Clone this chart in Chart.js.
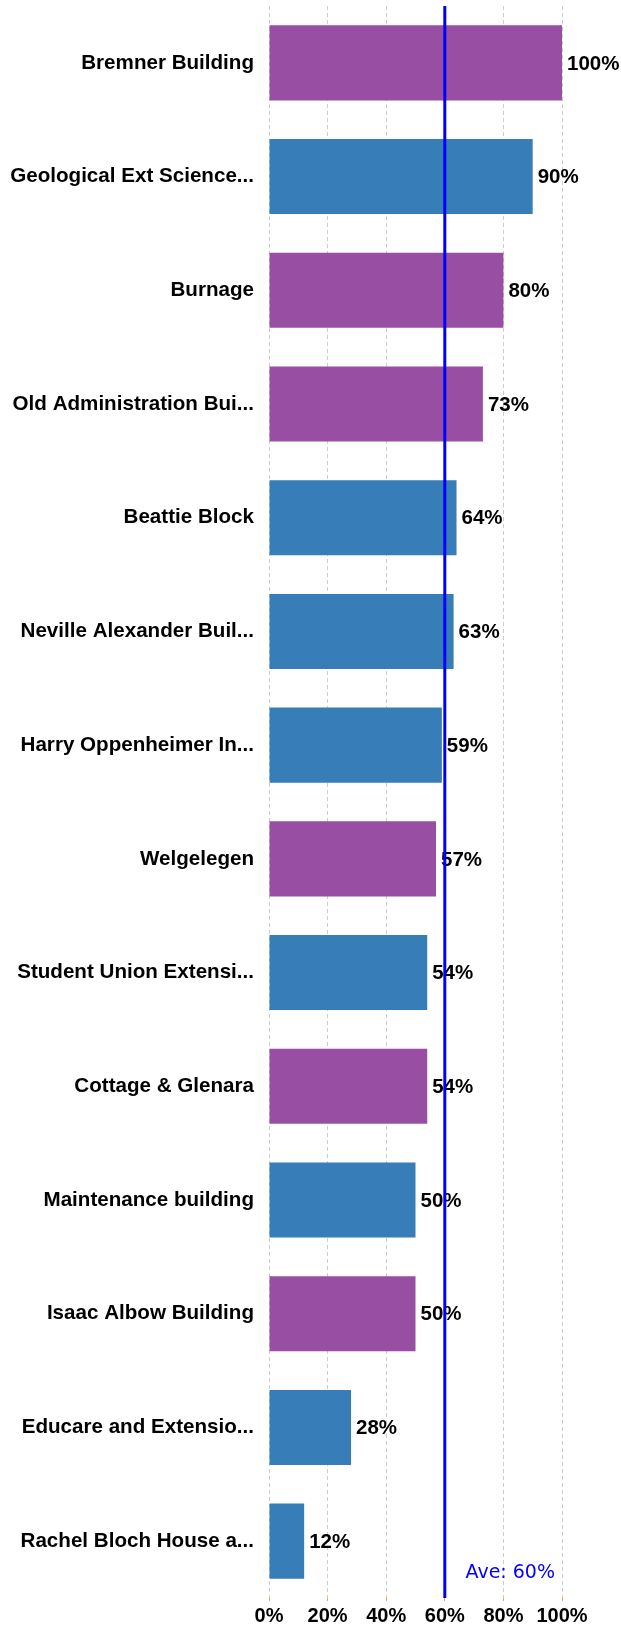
<!DOCTYPE html>
<html>
<head>
<meta charset="utf-8">
<script src="https://cdn.jsdelivr.net/npm/chart.js@4/dist/chart.umd.min.js"></script>
<style>
  html, body { margin: 0; padding: 0; background: #fff; }
  #wrap { width: 621px; height: 1625px; }
</style>
</head>
<body>
<div id="wrap"><canvas id="barCh"></canvas></div>
<script>
// buildings, sorted by score
let buildings = [
    'Bremner Building',
    'Geological Ext Science...',
    'Burnage',
    'Old Administration Bui...',
    'Beattie Block',
    'Neville Alexander Buil...',
    'Harry Oppenheimer In...',
    'Welgelegen',
    'Student Union Extensi...',
    'Cottage & Glenara',
    'Maintenance building',
    'Isaac Albow Building',
    'Educare and Extensio...',
    'Rachel Bloch House a...'
]
let scores = [100, 90, 80, 73, 64, 63, 59, 57, 54, 54, 50, 50, 28, 12]
// group of each building: 'A' drawn purple, 'B' drawn blue
let groups = ['A', 'B', 'A', 'A', 'B', 'B', 'B', 'A', 'B', 'A', 'B', 'A', 'B', 'B']
let x_ticks = [0, 20, 40, 60, 80, 100]
let average = 60

const groupColours = { A: '#984EA3', B: '#377EB8' }

// value labels at bar ends, then the average line on top
const extras = {
    id: 'extras',
    afterDatasetsDraw(chart) {
        const ctx = chart.ctx
        const meta = chart.getDatasetMeta(0)
        ctx.save()
        ctx.font = 'bold 20.5px "Liberation Sans", Arial, sans-serif'
        ctx.fillStyle = '#000'
        ctx.textAlign = 'left'
        ctx.textBaseline = 'middle'
        meta.data.forEach((bar, i) => {
            ctx.fillText(scores[i] + '%', bar.x + 5, bar.y + 1)
        })

        const xs = chart.scales.x
        const area = chart.chartArea
        const ax = xs.getPixelForValue(average)
        ctx.strokeStyle = '#0000FF'
        ctx.lineWidth = 3
        ctx.beginPath()
        ctx.moveTo(ax, area.top)
        ctx.lineTo(ax, area.bottom)
        ctx.stroke()

        ctx.font = '19px "DejaVu Sans", sans-serif'
        ctx.fillStyle = '#0000FF'
        ctx.textAlign = 'right'
        ctx.textBaseline = 'alphabetic'
        ctx.fillText('Ave: ' + average + '%', area.right - 7, area.bottom - 20)
        ctx.restore()
    }
}

const ch = new Chart(document.getElementById('barCh').getContext('2d'), {
    type: 'bar',
    data: {
        labels: buildings,
        datasets: [{
            data: scores,
            backgroundColor: groups.map(g => groupColours[g]),
            categoryPercentage: 1,
            barPercentage: 0.66
        }]
    },
    options: {
        indexAxis: 'y',
        responsive: true,
        maintainAspectRatio: false,
        animation: false,
        layout: { padding: { top: 6, right: 59, left: 0, bottom: 0 } },
        plugins: {
            legend: { display: false },
            tooltip: { enabled: false }
        },
        scales: {
            x: {
                min: 0,
                max: 100,
                afterBuildTicks(scale) {
                    scale.ticks = x_ticks.map(v => ({ value: v }))
                },
                afterFit(scale) {
                    scale.height = 27
                    scale.paddingLeft = 0
                    scale.paddingRight = 0
                },
                border: { display: false, dash: [4, 3] },
                grid: {
                    color: '#cccccc',
                    lineWidth: 1,
                    tickColor: '#f5a04a',
                    tickLength: 3,
                    tickBorderDash: []
                },
                ticks: {
                    color: '#000',
                    padding: 3,
                    maxRotation: 0,
                    font: { family: '"Liberation Sans", Arial, sans-serif', size: 20, weight: 'bold' },
                    callback: v => v + '%'
                }
            },
            y: {
                afterFit(scale) {
                    scale.width = 269
                    scale.paddingTop = 0
                    scale.paddingBottom = 0
                },
                border: { display: false },
                grid: { display: false, drawTicks: false },
                ticks: {
                    color: '#000',
                    padding: 15,
                    font: { family: '"Liberation Sans", Arial, sans-serif', size: 20.6, weight: 'bold' }
                }
            }
        }
    },
    plugins: [extras]
})
</script>
</body>
</html>
